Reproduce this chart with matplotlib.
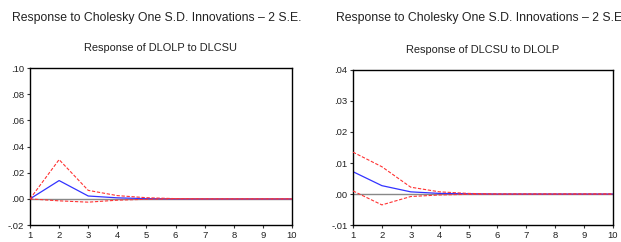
import matplotlib.pyplot as plt
import numpy as np

plt.rcParams['font.family'] = ['Liberation Sans', 'DejaVu Sans']

periods = np.arange(1, 11)

# Response of DLOLP to DLCSU
left_resp = [0.0, 0.0140, 0.0022, 0.0008, 0.0002, 0.0, 0.0, 0.0, 0.0, 0.0]
left_upper = [0.0, 0.0300, 0.0065, 0.0025, 0.0009, 0.0002, 0.0, 0.0, 0.0, 0.0]
left_lower = [0.0, -0.0015, -0.0025, -0.0010, -0.0003, 0.0, 0.0, 0.0, 0.0, 0.0]

# Response of DLCSU to DLOLP
right_resp = [0.0072, 0.0027, 0.0007, 0.0002, 0.0001, 0.0, 0.0, 0.0, 0.0, 0.0]
right_upper = [0.0135, 0.0088, 0.0022, 0.0007, 0.0002, 0.0, 0.0, 0.0, 0.0, 0.0]
right_lower = [0.0010, -0.0035, -0.0008, -0.0003, -0.0001, 0.0, 0.0, 0.0, 0.0, 0.0]

left_ticks = [-0.02, 0.0, 0.02, 0.04, 0.06, 0.08, 0.10]
right_ticks = [-0.01, 0.0, 0.01, 0.02, 0.03, 0.04]


def fmt(v):
    s = f'{v:.2f}'
    return s.replace('0.', '.')


fig = plt.figure(figsize=(6.21, 2.42), dpi=100)
ax1 = fig.add_axes([30/621, 0.070, 262/621, 0.649])
ax2 = fig.add_axes([353/621, 0.070, 260/621, 0.641])

panels = [
    (ax1, left_resp, left_upper, left_lower, left_ticks, 'Response of DLOLP to DLCSU'),
    (ax2, right_resp, right_upper, right_lower, right_ticks, 'Response of DLCSU to DLOLP'),
]

for ax, resp, up, lo, ticks, title in panels:
    ax.axhline(0, color='#888888', lw=1.0, zorder=1)
    ax.plot(periods, up, color='#ff3333', lw=0.8, ls=(0, (3, 1.5)), zorder=3)
    ax.plot(periods, lo, color='#ff3333', lw=0.8, ls=(0, (3, 1.5)), zorder=3)
    ax.plot(periods, resp, color='#3333ff', lw=0.9, zorder=2)
    ax.set_xlim(1, 10)
    ax.set_ylim(ticks[0], ticks[-1])
    ax.set_xticks(periods)
    ax.set_yticks(ticks)
    ax.set_yticklabels([fmt(t) for t in ticks])
    ax.tick_params(labelsize=6.8, length=2.5, width=0.8, pad=1.5,
                   color='#333333', labelcolor='#222222')
    for sp in ax.spines.values():
        sp.set_linewidth(1.0)
    ax.set_title(title, fontsize=7.9, pad=12, color='#222222')

fig.text(12/621, 1 - 18/242, 'Response to Cholesky One S.D. Innovations \u2013 2 S.E.',
         fontsize=8.8, va='center', ha='left', color='#222222')
fig.text(336/621, 1 - 18/242, 'Response to Cholesky One S.D. Innovations \u2013 2 S.E',
         fontsize=8.8, va='center', ha='left', color='#222222')

plt.savefig('out.png', dpi=100)
